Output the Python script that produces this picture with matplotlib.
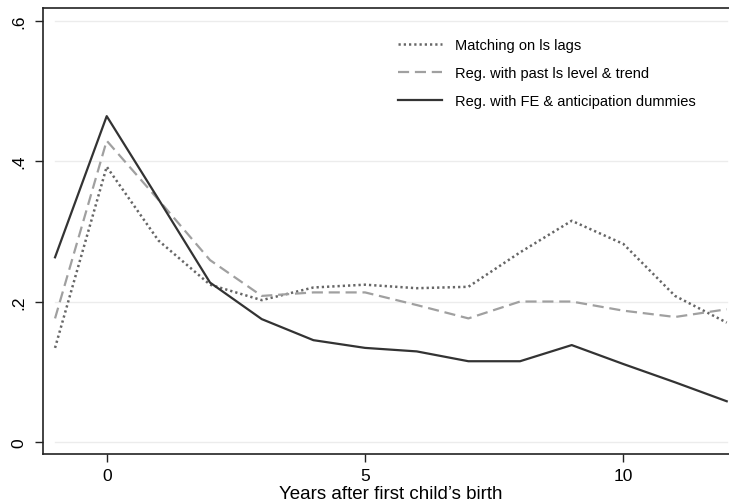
import numpy as np
import matplotlib
matplotlib.use('Agg')
import matplotlib.pyplot as plt

plt.rcParams['font.family'] = ['Liberation Sans', 'DejaVu Sans']

# ── data ─────────────────────────────────────────────────────────────────────
years = [-1, 0, 1, 2, 3, 4, 5, 6, 7, 8, 9, 10, 11, 12]
matching = [0.134, 0.392, 0.287, 0.224, 0.202, 0.220, 0.224, 0.219, 0.221,
            0.270, 0.315, 0.282, 0.208, 0.170]
reg_trend = [0.176, 0.429, 0.345, 0.259, 0.208, 0.213, 0.213, 0.195, 0.176,
             0.200, 0.200, 0.187, 0.178, 0.189]
reg_fe = [0.263, 0.464, 0.346, 0.227, 0.175, 0.145, 0.134, 0.129, 0.115,
          0.115, 0.138, 0.111, 0.085, 0.058]
labels = ['Matching on ls lags',
          'Reg. with past ls level & trend',
          'Reg. with FE & anticipation dummies']
yticks = [0, 0.2, 0.4, 0.6]
yticklabels = ['0', '.2', '.4', '.6']
xticks = [0, 5, 10]

fig = plt.figure(figsize=(7.29, 5.02), dpi=100)
ax = fig.add_axes([43 / 729, 47 / 502, 1 - 43 / 729, 446 / 502])

# light grid across the data range
for y in yticks:
    ax.plot([-1, 12], [y, y], color='#ececec', lw=1.0, zorder=0)

ax.plot(years, matching, color='#666666', lw=1.8, dashes=(0.9, 1.2),
        label=labels[0])
ax.plot(years, reg_trend, color='#a0a0a0', lw=1.6, dashes=(5, 2.6),
        label=labels[1])
ax.plot(years, reg_fe, color='#333333', lw=1.6, label=labels[2])

ax.set_xlim(-1.233, 12.044)
ax.set_ylim(-0.0171, 0.618)
ax.set_xticks(xticks)
ax.set_xticklabels([str(x) for x in xticks], fontsize=12.5)
ax.set_yticks(yticks)
ax.set_yticklabels(yticklabels, fontsize=12.5, rotation=90, va='center')
ax.tick_params(direction='out', length=6, width=1, color='#222222', pad=4)
ax.tick_params(axis='y', pad=6)
ax.spines['right'].set_visible(False)
for s in ('left', 'bottom', 'top'):
    ax.spines[s].set_linewidth(1.2)
    ax.spines[s].set_color('#222222')

fig.text(391 / 729, 7 / 502, 'Years after first child\u2019s birth',
         ha='center', va='center', fontsize=13.5)

leg = ax.legend(loc='upper left', bbox_to_anchor=(342 / 686, 0.962),
                frameon=False, fontsize=10.5, handlelength=3.0,
                labelspacing=0.95, handletextpad=0.9)

fig.savefig('out.png', dpi=100)
